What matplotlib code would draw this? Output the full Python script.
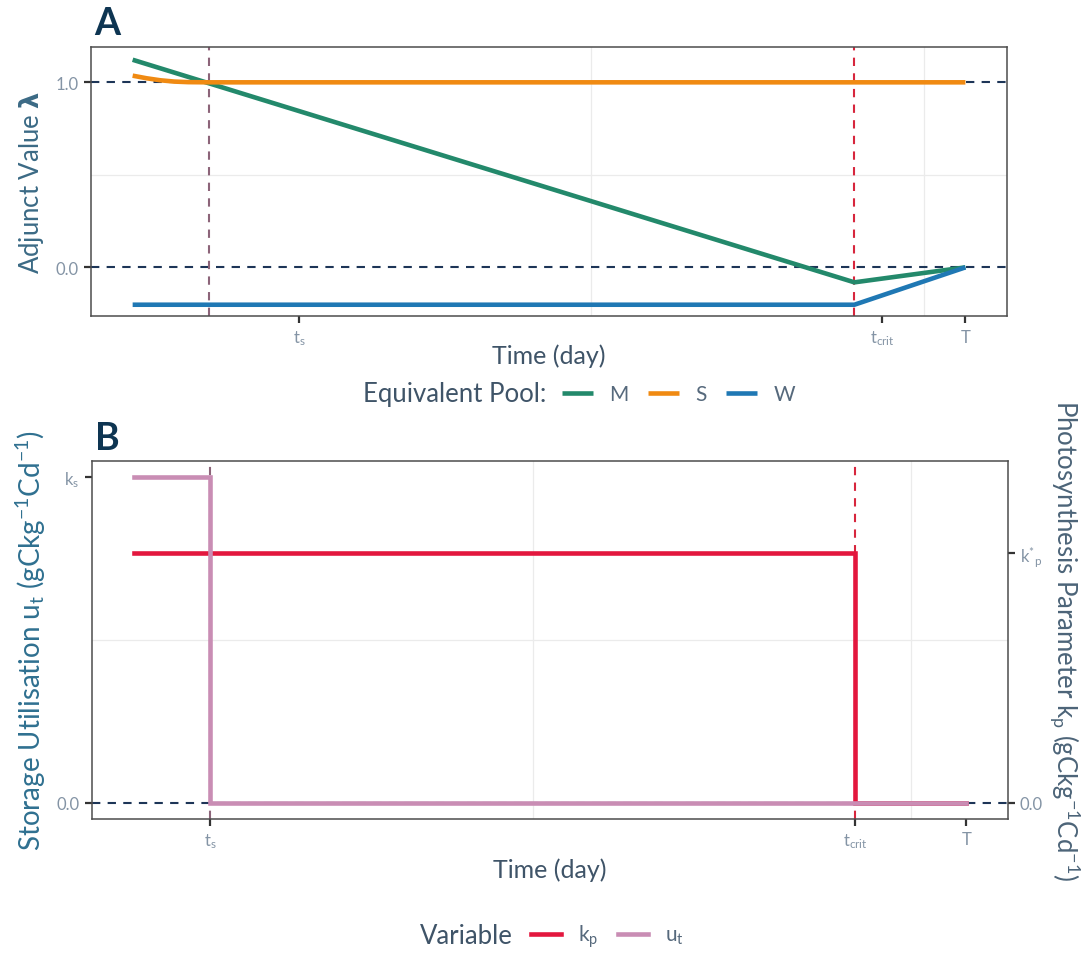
import matplotlib.pyplot as plt

plt.rcParams['font.family'] = ['Lato', 'DejaVu Sans']
plt.rcParams['mathtext.fontset'] = 'custom'
plt.rcParams['mathtext.rm'] = 'Lato'
plt.rcParams['mathtext.it'] = 'Lato:italic'
plt.rcParams['mathtext.bf'] = 'DejaVu Sans:bold'

# time axis in days
t_s = 11
t_crit = 104
t_end = 120
ticks_a = [24, 108, 120]          # labelled positions on panel A
ticks_b = [t_s, t_crit, t_end]    # labelled positions on panel B
tick_labels = [r'$\mathrm{t_s}$', r'$\mathrm{t_{crit}}$', 'T']

# panel A: adjunct values of the equivalent pools
t_m = [0, 104, 120]
lam_m = [1.122, -0.081, 0.0]
t_sp = [0, 2, 4, 6, 8, 11, 120]
lam_s = [1.036, 1.022, 1.011, 1.004, 1.001, 1.0, 1.0]
t_w = [0, 104, 120]
lam_w = [-0.202, -0.202, 0.0]

# panel B: storage utilisation (units of k_s) and photosynthesis parameter (units of k*_p)
t_u = [0, 11, 11, 120]
u_t = [1, 1, 0, 0]
t_k = [0, 104, 104, 120]
k_p = [1, 1, 0, 0]
kp_scale = 0.767   # k*_p expressed on the u_t axis

c_m, c_s, c_w = '#23896b', '#f08a12', '#1f78b4'
c_kp, c_ut = '#e3173e', '#c98db4'
c_ref = '#1d3557'
c_ts = '#8c6479'
c_crit = '#d7263d'
c_tick = '#8494a5'
c_title = '#3f5468'

fig = plt.figure(figsize=(10.9, 9.54), dpi=100)
ax_a = fig.add_axes([0.0835, 0.6677, 0.8404, 0.282])
ax_b = fig.add_axes([0.0844, 0.1405, 0.8404, 0.3753])

dash = (0, (4, 3.5))


def style(ax, ticks, mids, pad):
    for s in ax.spines.values():
        s.set_color('#4d4d4d')
        s.set_linewidth(1.1)
    ax.set_xlim(-6, 126)
    ax.set_xticks(ticks)
    ax.set_xticklabels(tick_labels)
    ax.set_xticks(mids, minor=True)
    ax.tick_params(which='major', length=5, width=1.6, color='#333333',
                   labelcolor=c_tick, labelsize=12, pad=4)
    ax.tick_params(which='minor', length=0)
    ax.grid(which='minor', color='#ebebeb', linewidth=0.9)
    ax.set_axisbelow(True)
    ax.set_xlabel('Time (day)', fontsize=18, color=c_title, labelpad=pad)


# ---- panel A ----
style(ax_a, ticks_a, [66, 114], -3)
ax_a.set_ylim(-0.263, 1.191)
ax_a.set_yticks([0.0, 1.0])
ax_a.set_yticklabels(['0.0', '1.0'])
ax_a.set_yticks([0.5], minor=True)
ax_a.axhline(1.0, color=c_ref, ls=dash, lw=1.5, zorder=1)
ax_a.axhline(0.0, color=c_ref, ls=dash, lw=1.5, zorder=1)
ax_a.axvline(t_s, color=c_ts, ls=dash, lw=1.5, zorder=1)
ax_a.axvline(t_crit, color=c_crit, ls=dash, lw=1.5, zorder=1)
la_m, = ax_a.plot(t_m, lam_m, color=c_m, lw=3.3, solid_capstyle='butt', zorder=3)
la_s, = ax_a.plot(t_sp, lam_s, color=c_s, lw=3.3, solid_capstyle='butt', zorder=3)
la_w, = ax_a.plot(t_w, lam_w, color=c_w, lw=3.3, solid_capstyle='butt', zorder=3)
ax_a.set_ylabel(r'Adjunct Value $\mathbf{\lambda}$', fontsize=18.5, color='#3b6a85',
                labelpad=7)
fig.text(0.086, 0.963, 'A', fontsize=27, fontweight='bold', color='#0e3552')

# ---- panel B ----
style(ax_b, ticks_b, [57.5, 112], 5)
ax_b.set_ylim(-0.05, 1.05)
ax_b.set_yticks([0.0, 1.0])
ax_b.set_yticklabels(['0.0', r'$\mathrm{k_s}$'])
ax_b.set_yticks([0.5], minor=True)
ax_b.axhline(0.0, color=c_ref, ls=dash, lw=1.5, zorder=1)
ax_b.axvline(t_s, color=c_ts, ls=dash, lw=1.5, zorder=1)
ax_b.axvline(t_crit, color=c_crit, ls=dash, lw=1.5, zorder=1)
lb_k, = ax_b.plot(t_k, [v * kp_scale for v in k_p], color=c_kp, lw=3.3,
                  solid_joinstyle='miter', zorder=3)
lb_u, = ax_b.plot(t_u, u_t, color=c_ut, lw=3.3, solid_joinstyle='miter', zorder=4)
ax_b.set_ylabel(r'Storage Utilisation $\mathrm{u_t}$ $\mathrm{(gCkg^{-1}Cd^{-1})}$',
                fontsize=20, color='#2f7090', labelpad=6)

sec = ax_b.secondary_yaxis('right', functions=(lambda y: y / kp_scale, lambda y: y * kp_scale))
sec.set_yticks([0.0, 1.0])
sec.set_yticklabels(['0.0', r'$\mathrm{k^{*}{}_{p}}$'])
sec.tick_params(length=5, width=1.6, color='#333333', labelcolor=c_tick, labelsize=12)
sec.spines['right'].set_visible(False)
sec.set_ylabel(r'Photosynthesis Parameter $\mathrm{k_p}$ $\mathrm{(gCkg^{-1}Cd^{-1})}$',
               fontsize=18.5, color='#4c6478', rotation=270, labelpad=28)
fig.text(0.087, 0.528, 'B', fontsize=27, fontweight='bold', color='#0e3552')

# ---- legends ----
fig.text(0.501, 1 - 395 / 954, 'Equivalent Pool:', ha='right', va='center',
         fontsize=18.5, color=c_title)
fig.legend(handles=[la_m, la_s, la_w], labels=['M', 'S', 'W'], loc='center left',
           bbox_to_anchor=(0.516, 1 - 395 / 954), ncol=3, frameon=False,
           handlelength=1.45, handletextpad=0.8, columnspacing=0.95,
           fontsize=15, labelcolor='#56697c', borderaxespad=0, borderpad=0)

fig.text(0.47, 1 - 937 / 954, 'Variable', ha='right', va='center',
         fontsize=18.5, color=c_title)
fig.legend(handles=[lb_k, lb_u], labels=[r'$\mathrm{k_p}$', r'$\mathrm{u_t}$'],
           loc='center left', bbox_to_anchor=(0.487, 1 - 937 / 954), ncol=2,
           frameon=False, handlelength=1.45, handletextpad=0.8, columnspacing=0.95,
           fontsize=15, labelcolor='#56697c', borderaxespad=0, borderpad=0)

fig.savefig('out.png', dpi=100)
